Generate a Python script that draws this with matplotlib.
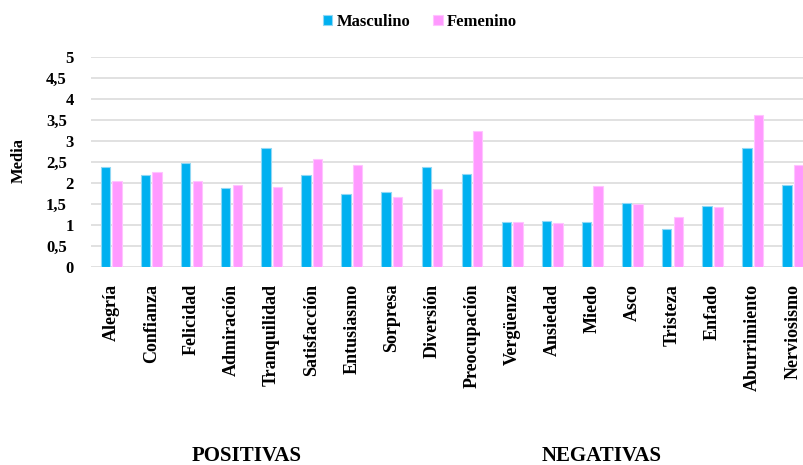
import numpy as np
import matplotlib
matplotlib.use("Agg")
import matplotlib.pyplot as plt
from matplotlib.transforms import blended_transform_factory

# Data
categorias = ["Alegría", "Confianza", "Felicidad", "Admiración", "Tranquilidad",
              "Satisfacción", "Entusiasmo", "Sorpresa", "Diversión", "Preocupación",
              "Vergüenza", "Ansiedad", "Miedo", "Asco", "Tristeza", "Enfado",
              "Aburrimiento", "Nerviosismo"]
masculino = [2.39, 2.20, 2.48, 1.89, 2.83, 2.20, 1.75, 1.78, 2.39, 2.22,
             1.08, 1.09, 1.08, 1.54, 0.92, 1.45, 2.83, 1.96]
femenino = [2.05, 2.27, 2.04, 1.96, 1.92, 2.58, 2.43, 1.67, 1.87, 3.23,
            1.07, 1.05, 1.94, 1.51, 1.20, 1.43, 3.62, 2.44]
grupos = ["POSITIVAS", "NEGATIVAS"]
y_ticks = [0, 0.5, 1, 1.5, 2, 2.5, 3, 3.5, 4, 4.5, 5]

plt.rcParams["font.family"] = ["Liberation Serif", "DejaVu Serif"]
plt.rcParams["font.weight"] = "bold"

fig = plt.figure(figsize=(8.04, 4.65), dpi=100)
W, H = 804, 465
ax = fig.add_axes([91 / W, 1 - 267.3 / H, (804 - 91) / W, (267.3 - 57) / H])

x = np.arange(len(categorias))
bw = 0.232
off = 0.143
ax.bar(x - off, masculino, bw, color="#00B0F0", edgecolor="#8FD8F5",
       linewidth=0.8, label="Masculino", zorder=3)
ax.bar(x + off, femenino, bw, color="#FF99FF", edgecolor="#FFC4FF",
       linewidth=0.8, label="Femenino", zorder=3)

ax.set_xlim(-0.505, 17.28)
ax.set_ylim(0, 5)
ax.set_yticks(y_ticks)
ax.yaxis.grid(True, color="#D9D9D9", linewidth=1.1, zorder=0)
ax.set_yticklabels([])
ax.tick_params(axis="y", length=0)
for s in ax.spines.values():
    s.set_visible(False)

# y tick labels (integers sit further right than decimals, as in the reference)
ytr = ax.get_yaxis_transform()
for t in y_ticks:
    lab = ("%g" % t).replace(".", ",")
    xpos = -(91 - 74) / 713 if float(t).is_integer() else -(91 - 67) / 713
    ax.text(xpos, t - 0.04, lab, transform=ytr, ha="right", va="center",
            fontsize=12, fontweight="bold")

ax.set_xticks(x)
ax.set_xticklabels(categorias, rotation=90, fontsize=13, fontweight="bold")
ax.tick_params(axis="x", length=0, pad=12)

fig.text(19 / W, 1 - 160 / H, "Media", rotation=90, ha="center", va="center",
         fontsize=12, fontweight="bold")

# group labels of the two-level category axis
gtr = blended_transform_factory(ax.transData, fig.transFigure)
for g, pos in zip(grupos, [3.37, 12.24]):
    fig.text(pos, 1 - 456 / H, g, transform=gtr, ha="center", va="center",
             fontsize=15, fontweight="bold")

fig.legend(loc="center", bbox_to_anchor=(420 / W, 1 - 22 / H), ncol=2,
           frameon=False, handlelength=0.55, handleheight=0.55,
           handletextpad=0.25, columnspacing=1.4, prop={"weight": "bold", "size": 12})

fig.savefig("out.png", dpi=100)
